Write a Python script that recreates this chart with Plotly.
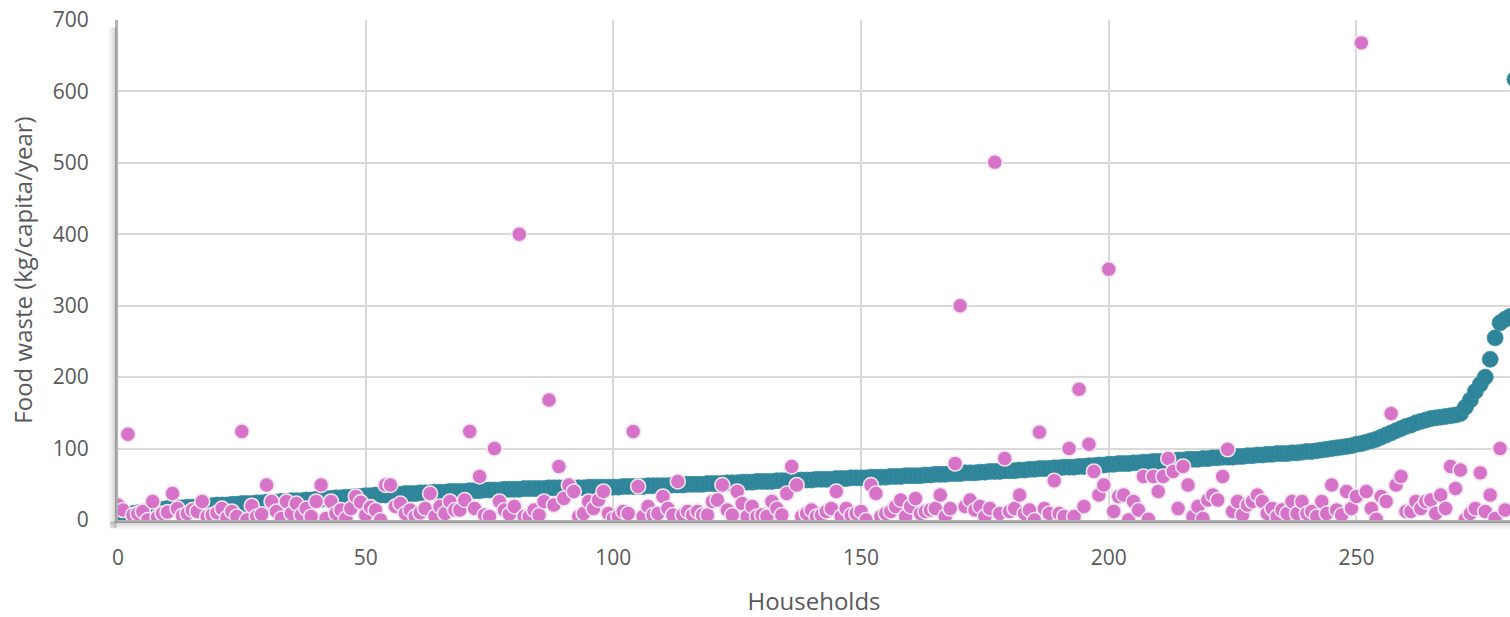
import plotly.graph_objects as go

# Household food waste per person: sorted series and unsorted companion series
sorted_waste = [
    2, 5, 7, 9, 10, 11, 12, 13, 14, 15,
    16, 16, 17, 17, 18, 18, 19, 19, 20, 20,
    21, 21, 21, 22, 22, 23, 23, 23, 24, 24,
    25, 25, 25, 26, 26, 27, 27, 27, 28, 28,
    29, 29, 30, 30, 31, 31, 32, 32, 33, 33,
    34, 34, 35, 35, 35, 36, 36, 36, 37, 37,
    37, 38, 38, 38, 39, 39, 39, 40, 40, 40,
    40, 41, 41, 41, 42, 42, 42, 42, 43, 43,
    43, 43, 44, 44, 44, 44, 44, 45, 45, 45,
    45, 45, 45, 45, 45, 46, 46, 46, 46, 46,
    46, 46, 47, 47, 47, 47, 47, 48, 48, 48,
    48, 48, 49, 49, 49, 50, 50, 50, 50, 51,
    51, 51, 51, 52, 52, 52, 53, 53, 53, 54,
    54, 54, 54, 55, 55, 55, 55, 56, 56, 56,
    56, 57, 57, 57, 57, 58, 58, 58, 59, 59,
    59, 59, 60, 60, 60, 60, 61, 61, 61, 62,
    62, 62, 62, 63, 63, 64, 64, 64, 65, 65,
    65, 66, 66, 66, 67, 67, 68, 68, 68, 69,
    69, 69, 70, 70, 71, 71, 72, 72, 72, 73,
    73, 74, 74, 74, 75, 75, 76, 76, 77, 77,
    78, 78, 79, 79, 79, 80, 80, 81, 81, 82,
    82, 82, 83, 83, 84, 84, 85, 85, 85, 86,
    86, 87, 87, 88, 88, 88, 89, 89, 90, 90,
    91, 91, 92, 92, 93, 93, 93, 94, 94, 95,
    96, 96, 97, 98, 99, 100, 101, 102, 103, 104,
    106, 107, 109, 111, 113, 116, 119, 122, 125, 128,
    131, 133, 136, 138, 140, 142, 143, 144, 145, 146,
    147, 149, 158, 168, 180, 190, 200, 225, 255, 276,
    281, 285, 617,
]

household_waste = [
    21, 14, 120, 7, 9, 12, 0, 26, 4, 9,
    11, 37, 16, 6, 9, 14, 12, 26, 5, 7,
    10, 16, 3, 12, 5, 124, 0, 20, 5, 8,
    49, 26, 12, 2, 26, 9, 23, 7, 16, 5,
    26, 49, 2, 26, 9, 14, 2, 16, 33, 25,
    7, 18, 14, 0, 49, 49, 19, 23, 9, 14,
    5, 10, 16, 37, 5, 19, 9, 26, 14, 14,
    28, 124, 16, 61, 7, 5, 100, 26, 14, 8,
    19, 400, 5, 5, 14, 7, 26, 168, 21, 75,
    30, 49, 40, 5, 9, 26, 16, 28, 40, 9,
    2, 5, 12, 9, 124, 47, 5, 19, 7, 9,
    33, 16, 7, 54, 7, 12, 7, 12, 7, 7,
    26, 28, 49, 14, 7, 40, 23, 5, 19, 5,
    7, 5, 26, 16, 7, 37, 75, 49, 5, 9,
    14, 5, 7, 12, 16, 40, 5, 16, 7, 9,
    12, 0, 49, 37, 5, 9, 12, 19, 28, 5,
    19, 30, 9, 12, 14, 16, 35, 5, 16, 79,
    300, 19, 28, 14, 19, 5, 16, 501, 9, 86,
    12, 16, 35, 9, 14, 0, 123, 16, 9, 55,
    9, 5, 100, 5, 183, 19, 106, 68, 35, 49,
    351, 12, 33, 35, 0, 26, 14, 61, 1, 61,
    40, 61, 86, 68, 16, 75, 49, 5, 19, 2,
    28, 35, 28, 61, 99, 12, 26, 7, 21, 26,
    35, 26, 9, 16, 5, 14, 9, 26, 9, 26,
    9, 12, 5, 26, 9, 49, 14, 7, 40, 16,
    33, 668, 40, 16, 1, 33, 26, 149, 49, 61,
    12, 12, 26, 16, 26, 28, 9, 35, 16, 75,
    44, 70, 1, 9, 16, 66, 12, 35, 2, 100,
    14,
]

x_ticks = [0, 50, 100, 150, 200, 250]
y_ticks = [0, 100, 200, 300, 400, 500, 600, 700]

TEAL = "#2e8499"
PINK = "#d772c9"
TEXT = "#595959"
GRID = "#d9d9d9"
FONT = "Open Sans"

fig = go.Figure()

fig.add_trace(go.Scatter(
    x=list(range(len(sorted_waste))),
    y=sorted_waste,
    mode="markers",
    marker=dict(size=16, color=TEAL, line=dict(width=0.8, color="#3a8ea2")),
    hoverinfo="x+y",
    showlegend=False,
))

fig.add_trace(go.Scatter(
    x=list(range(len(household_waste))),
    y=household_waste,
    mode="markers",
    marker=dict(size=15, color=PINK, line=dict(width=1.6, color="#f3e4f1")),
    hoverinfo="x+y",
    showlegend=False,
))

fig.update_layout(
    width=1510,
    height=617,
    margin=dict(l=118, r=0, t=20, b=97),
    paper_bgcolor="white",
    plot_bgcolor="white",
    font=dict(family=FONT, color=TEXT, size=21),
    xaxis=dict(
        range=[0, 281],
        tickvals=x_ticks,
        ticktext=[str(v) for v in x_ticks],
        showgrid=True, gridcolor=GRID, gridwidth=1.6,
        zeroline=False,
        showline=True, linecolor="#b3b3b3", linewidth=3,
        ticks="", ticklabelstandoff=17,
        tickfont=dict(size=21, color=TEXT, family=FONT),
        title=dict(text="Households", standoff=26,
                   font=dict(size=24, color=TEXT, family=FONT)),
    ),
    yaxis=dict(
        range=[0, 700],
        tickvals=y_ticks,
        ticktext=[str(v) for v in y_ticks],
        showgrid=True, gridcolor=GRID, gridwidth=1.6,
        zeroline=False,
        showline=True, linecolor="#b3b3b3", linewidth=3,
        ticks="", ticklabelstandoff=22,
        tickfont=dict(size=21, color=TEXT, family=FONT),
        title=dict(text="Food waste (kg/capita/year)", standoff=14,
                   font=dict(size=24, color=TEXT, family=FONT)),
    ),
)

# soft shadow strips along the left and bottom edges of the plot area
plot_w = 1510 - 118
plot_h = 617 - 20 - 97
offsets = [-2.5, -4.5, -6.5, -8.5]
opacities = [0.35, 0.22, 0.12, 0.06]
shapes = []
for d, op in zip(offsets, opacities):
    shapes.append(dict(
        type="line", xref="paper", yref="paper", layer="above",
        x0=d / plot_w, x1=d / plot_w, y0=-8 / plot_h, y1=0.985,
        line=dict(color=f"rgba(110,110,110,{op})", width=2),
    ))
    shapes.append(dict(
        type="line", xref="paper", yref="paper", layer="above",
        x0=-8 / plot_w, x1=1, y0=d / plot_h, y1=d / plot_h,
        line=dict(color=f"rgba(110,110,110,{op})", width=2),
    ))
fig.update_layout(shapes=shapes)

fig.write_html("out.html")
